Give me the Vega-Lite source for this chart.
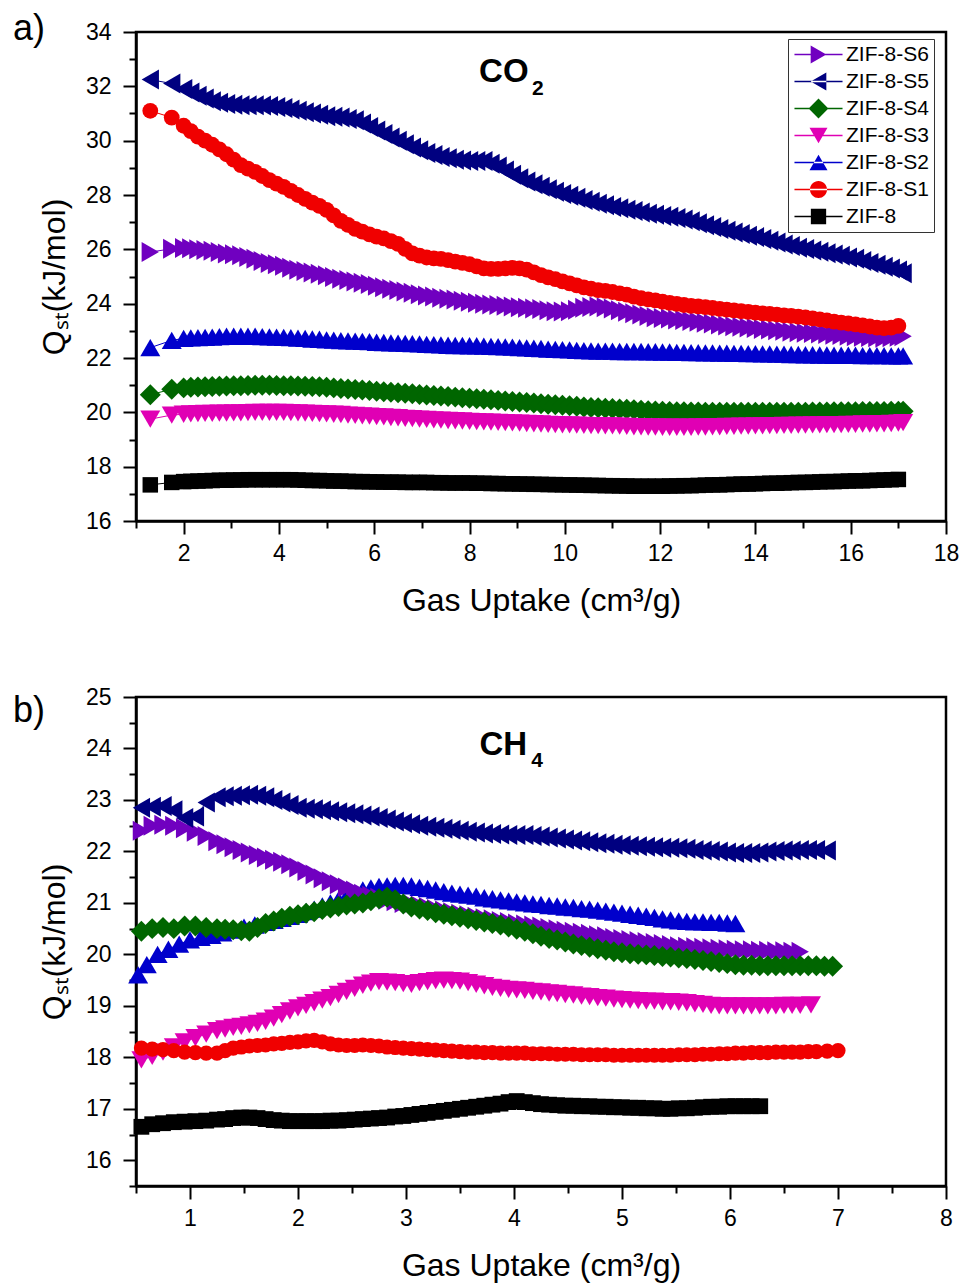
{
"$schema": "https://vega.github.io/schema/vega-lite/v6.json",
"background": "white",
"padding": {"left": 11, "top": 9, "right": 5, "bottom": 5},
"spacing": 66,
"config": {
 "font": "Liberation Sans",
 "view": {"stroke": "black", "strokeWidth": 2.5},
 "axis": {"grid": false, "domainColor": "black", "domainWidth": 2.5, "tickColor": "black", "tickWidth": 2, "labelFont": "Liberation Sans", "labelFontSize": 23, "labelColor": "black", "titleFont": "Liberation Sans", "titleFontSize": 32, "titleFontWeight": "normal", "titleColor": "black", "labelOverlap": false, "labelFlush": false}
},
"datasets": {
"a6": [{"x":1.3,"y":25.9},{"x":1.75,"y":26.02},{"x":2.0,"y":26.05},{"x":2.15,"y":26.04},{"x":2.3,"y":26.0},{"x":2.45,"y":25.98},{"x":2.6,"y":25.95},{"x":2.75,"y":25.9},{"x":2.9,"y":25.85},{"x":3.05,"y":25.82},{"x":3.2,"y":25.78},{"x":3.35,"y":25.72},{"x":3.5,"y":25.65},{"x":3.65,"y":25.57},{"x":3.8,"y":25.5},{"x":3.95,"y":25.45},{"x":4.1,"y":25.4},{"x":4.25,"y":25.32},{"x":4.4,"y":25.25},{"x":4.55,"y":25.2},{"x":4.7,"y":25.15},{"x":4.85,"y":25.1},{"x":5.0,"y":25.05},{"x":5.15,"y":24.98},{"x":5.3,"y":24.92},{"x":5.45,"y":24.87},{"x":5.6,"y":24.82},{"x":5.75,"y":24.77},{"x":5.9,"y":24.72},{"x":6.05,"y":24.66},{"x":6.2,"y":24.6},{"x":6.35,"y":24.55},{"x":6.5,"y":24.5},{"x":6.65,"y":24.45},{"x":6.8,"y":24.4},{"x":6.95,"y":24.35},{"x":7.1,"y":24.3},{"x":7.25,"y":24.26},{"x":7.4,"y":24.22},{"x":7.55,"y":24.18},{"x":7.7,"y":24.15},{"x":7.85,"y":24.11},{"x":8.0,"y":24.07},{"x":8.15,"y":24.03},{"x":8.3,"y":24.0},{"x":8.45,"y":23.97},{"x":8.6,"y":23.95},{"x":8.75,"y":23.92},{"x":8.9,"y":23.9},{"x":9.05,"y":23.87},{"x":9.2,"y":23.85},{"x":9.35,"y":23.82},{"x":9.5,"y":23.8},{"x":9.65,"y":23.76},{"x":9.8,"y":23.72},{"x":9.95,"y":23.71},{"x":10.1,"y":23.72},{"x":10.25,"y":23.78},{"x":10.4,"y":23.85},{"x":10.55,"y":23.88},{"x":10.7,"y":23.9},{"x":10.85,"y":23.87},{"x":11.0,"y":23.82},{"x":11.15,"y":23.76},{"x":11.3,"y":23.7},{"x":11.45,"y":23.65},{"x":11.6,"y":23.6},{"x":11.75,"y":23.55},{"x":11.9,"y":23.5},{"x":12.05,"y":23.47},{"x":12.2,"y":23.45},{"x":12.35,"y":23.42},{"x":12.5,"y":23.4},{"x":12.65,"y":23.36},{"x":12.8,"y":23.33},{"x":12.95,"y":23.3},{"x":13.1,"y":23.27},{"x":13.25,"y":23.23},{"x":13.4,"y":23.2},{"x":13.55,"y":23.17},{"x":13.7,"y":23.15},{"x":13.85,"y":23.12},{"x":14.0,"y":23.1},{"x":14.15,"y":23.07},{"x":14.3,"y":23.05},{"x":14.45,"y":23.02},{"x":14.6,"y":23.0},{"x":14.75,"y":22.97},{"x":14.9,"y":22.95},{"x":15.05,"y":22.93},{"x":15.2,"y":22.92},{"x":15.35,"y":22.9},{"x":15.5,"y":22.88},{"x":15.65,"y":22.86},{"x":15.8,"y":22.85},{"x":15.95,"y":22.82},{"x":16.1,"y":22.8},{"x":16.25,"y":22.78},{"x":16.4,"y":22.77},{"x":16.55,"y":22.76},{"x":16.7,"y":22.75},{"x":16.85,"y":22.76},{"x":17.0,"y":22.78},{"x":17.1,"y":22.8}],
"a5": [{"x":1.3,"y":32.25},{"x":1.75,"y":32.1},{"x":2.0,"y":31.9},{"x":2.15,"y":31.77},{"x":2.3,"y":31.65},{"x":2.45,"y":31.55},{"x":2.6,"y":31.45},{"x":2.75,"y":31.4},{"x":2.9,"y":31.35},{"x":3.05,"y":31.32},{"x":3.2,"y":31.3},{"x":3.35,"y":31.3},{"x":3.5,"y":31.3},{"x":3.65,"y":31.29},{"x":3.8,"y":31.28},{"x":3.95,"y":31.24},{"x":4.1,"y":31.2},{"x":4.25,"y":31.15},{"x":4.4,"y":31.1},{"x":4.55,"y":31.05},{"x":4.7,"y":31.0},{"x":4.85,"y":30.95},{"x":5.0,"y":30.9},{"x":5.15,"y":30.88},{"x":5.3,"y":30.85},{"x":5.45,"y":30.8},{"x":5.6,"y":30.75},{"x":5.75,"y":30.63},{"x":5.9,"y":30.5},{"x":6.05,"y":30.37},{"x":6.2,"y":30.25},{"x":6.35,"y":30.12},{"x":6.5,"y":30.0},{"x":6.65,"y":29.87},{"x":6.8,"y":29.75},{"x":6.95,"y":29.65},{"x":7.1,"y":29.55},{"x":7.25,"y":29.47},{"x":7.4,"y":29.4},{"x":7.55,"y":29.35},{"x":7.7,"y":29.3},{"x":7.85,"y":29.27},{"x":8.0,"y":29.25},{"x":8.15,"y":29.25},{"x":8.3,"y":29.25},{"x":8.45,"y":29.15},{"x":8.6,"y":29.05},{"x":8.75,"y":28.9},{"x":8.9,"y":28.75},{"x":9.05,"y":28.62},{"x":9.2,"y":28.5},{"x":9.35,"y":28.4},{"x":9.5,"y":28.3},{"x":9.65,"y":28.21},{"x":9.8,"y":28.12},{"x":9.95,"y":28.04},{"x":10.1,"y":27.97},{"x":10.25,"y":27.9},{"x":10.4,"y":27.82},{"x":10.55,"y":27.75},{"x":10.7,"y":27.68},{"x":10.85,"y":27.62},{"x":11.0,"y":27.56},{"x":11.15,"y":27.51},{"x":11.3,"y":27.46},{"x":11.45,"y":27.41},{"x":11.6,"y":27.36},{"x":11.75,"y":27.31},{"x":11.9,"y":27.27},{"x":12.05,"y":27.23},{"x":12.2,"y":27.2},{"x":12.35,"y":27.15},{"x":12.5,"y":27.1},{"x":12.65,"y":27.03},{"x":12.8,"y":26.96},{"x":12.95,"y":26.89},{"x":13.1,"y":26.82},{"x":13.25,"y":26.75},{"x":13.4,"y":26.68},{"x":13.55,"y":26.62},{"x":13.7,"y":26.56},{"x":13.85,"y":26.5},{"x":14.0,"y":26.45},{"x":14.15,"y":26.38},{"x":14.3,"y":26.32},{"x":14.45,"y":26.25},{"x":14.6,"y":26.18},{"x":14.75,"y":26.12},{"x":14.9,"y":26.06},{"x":15.05,"y":26.01},{"x":15.2,"y":25.96},{"x":15.35,"y":25.91},{"x":15.5,"y":25.86},{"x":15.65,"y":25.81},{"x":15.8,"y":25.76},{"x":15.95,"y":25.7},{"x":16.1,"y":25.65},{"x":16.25,"y":25.57},{"x":16.4,"y":25.5},{"x":16.55,"y":25.43},{"x":16.7,"y":25.36},{"x":16.85,"y":25.29},{"x":17.0,"y":25.22},{"x":17.1,"y":25.12}],
"a4": [{"x":1.3,"y":20.65},{"x":1.75,"y":20.85},{"x":2.0,"y":20.9},{"x":2.15,"y":20.92},{"x":2.3,"y":20.93},{"x":2.45,"y":20.94},{"x":2.6,"y":20.95},{"x":2.75,"y":20.96},{"x":2.9,"y":20.97},{"x":3.05,"y":20.98},{"x":3.2,"y":20.98},{"x":3.35,"y":20.99},{"x":3.5,"y":21.0},{"x":3.65,"y":21.0},{"x":3.8,"y":21.0},{"x":3.95,"y":20.99},{"x":4.1,"y":20.98},{"x":4.25,"y":20.98},{"x":4.4,"y":20.97},{"x":4.55,"y":20.96},{"x":4.7,"y":20.95},{"x":4.85,"y":20.94},{"x":5.0,"y":20.92},{"x":5.15,"y":20.9},{"x":5.3,"y":20.88},{"x":5.45,"y":20.86},{"x":5.6,"y":20.84},{"x":5.75,"y":20.82},{"x":5.9,"y":20.8},{"x":6.05,"y":20.78},{"x":6.2,"y":20.76},{"x":6.35,"y":20.74},{"x":6.5,"y":20.72},{"x":6.65,"y":20.7},{"x":6.8,"y":20.68},{"x":6.95,"y":20.66},{"x":7.1,"y":20.64},{"x":7.25,"y":20.62},{"x":7.4,"y":20.6},{"x":7.55,"y":20.58},{"x":7.7,"y":20.56},{"x":7.85,"y":20.54},{"x":8.0,"y":20.52},{"x":8.15,"y":20.5},{"x":8.3,"y":20.48},{"x":8.45,"y":20.46},{"x":8.6,"y":20.44},{"x":8.75,"y":20.42},{"x":8.9,"y":20.4},{"x":9.05,"y":20.38},{"x":9.2,"y":20.36},{"x":9.35,"y":20.34},{"x":9.5,"y":20.32},{"x":9.65,"y":20.3},{"x":9.8,"y":20.28},{"x":9.95,"y":20.26},{"x":10.1,"y":20.24},{"x":10.25,"y":20.22},{"x":10.4,"y":20.2},{"x":10.55,"y":20.18},{"x":10.7,"y":20.17},{"x":10.85,"y":20.15},{"x":11.0,"y":20.14},{"x":11.15,"y":20.12},{"x":11.3,"y":20.11},{"x":11.45,"y":20.1},{"x":11.6,"y":20.08},{"x":11.75,"y":20.06},{"x":11.9,"y":20.05},{"x":12.05,"y":20.04},{"x":12.2,"y":20.03},{"x":12.35,"y":20.02},{"x":12.5,"y":20.02},{"x":12.65,"y":20.01},{"x":12.8,"y":20.01},{"x":12.95,"y":20.0},{"x":13.1,"y":20.0},{"x":13.25,"y":20.0},{"x":13.4,"y":20.0},{"x":13.55,"y":20.0},{"x":13.7,"y":20.0},{"x":13.85,"y":20.0},{"x":14.0,"y":20.0},{"x":14.15,"y":20.0},{"x":14.3,"y":20.0},{"x":14.45,"y":20.0},{"x":14.6,"y":20.0},{"x":14.75,"y":20.0},{"x":14.9,"y":20.0},{"x":15.05,"y":20.0},{"x":15.2,"y":20.01},{"x":15.35,"y":20.01},{"x":15.5,"y":20.01},{"x":15.65,"y":20.02},{"x":15.8,"y":20.02},{"x":15.95,"y":20.02},{"x":16.1,"y":20.02},{"x":16.25,"y":20.03},{"x":16.4,"y":20.03},{"x":16.55,"y":20.03},{"x":16.7,"y":20.03},{"x":16.85,"y":20.04},{"x":17.0,"y":20.04},{"x":17.1,"y":20.04}],
"a3": [{"x":1.3,"y":19.75},{"x":1.75,"y":19.9},{"x":2.0,"y":19.93},{"x":2.15,"y":19.94},{"x":2.3,"y":19.95},{"x":2.45,"y":19.96},{"x":2.6,"y":19.96},{"x":2.75,"y":19.97},{"x":2.9,"y":19.97},{"x":3.05,"y":19.98},{"x":3.2,"y":19.98},{"x":3.35,"y":19.99},{"x":3.5,"y":20.0},{"x":3.65,"y":20.0},{"x":3.8,"y":20.0},{"x":3.95,"y":20.0},{"x":4.1,"y":20.0},{"x":4.25,"y":19.99},{"x":4.4,"y":19.98},{"x":4.55,"y":19.97},{"x":4.7,"y":19.96},{"x":4.85,"y":19.95},{"x":5.0,"y":19.94},{"x":5.15,"y":19.93},{"x":5.3,"y":19.92},{"x":5.45,"y":19.9},{"x":5.6,"y":19.89},{"x":5.75,"y":19.87},{"x":5.9,"y":19.86},{"x":6.05,"y":19.84},{"x":6.2,"y":19.83},{"x":6.35,"y":19.81},{"x":6.5,"y":19.8},{"x":6.65,"y":19.78},{"x":6.8,"y":19.77},{"x":6.95,"y":19.75},{"x":7.1,"y":19.74},{"x":7.25,"y":19.72},{"x":7.4,"y":19.71},{"x":7.55,"y":19.7},{"x":7.7,"y":19.69},{"x":7.85,"y":19.68},{"x":8.0,"y":19.67},{"x":8.15,"y":19.66},{"x":8.3,"y":19.65},{"x":8.45,"y":19.64},{"x":8.6,"y":19.63},{"x":8.75,"y":19.62},{"x":8.9,"y":19.61},{"x":9.05,"y":19.6},{"x":9.2,"y":19.59},{"x":9.35,"y":19.58},{"x":9.5,"y":19.57},{"x":9.65,"y":19.56},{"x":9.8,"y":19.55},{"x":9.95,"y":19.54},{"x":10.1,"y":19.54},{"x":10.25,"y":19.53},{"x":10.4,"y":19.52},{"x":10.55,"y":19.51},{"x":10.7,"y":19.51},{"x":10.85,"y":19.5},{"x":11.0,"y":19.5},{"x":11.15,"y":19.49},{"x":11.3,"y":19.48},{"x":11.45,"y":19.47},{"x":11.6,"y":19.47},{"x":11.75,"y":19.46},{"x":11.9,"y":19.46},{"x":12.05,"y":19.45},{"x":12.2,"y":19.45},{"x":12.35,"y":19.45},{"x":12.5,"y":19.45},{"x":12.65,"y":19.45},{"x":12.8,"y":19.46},{"x":12.95,"y":19.46},{"x":13.1,"y":19.47},{"x":13.25,"y":19.47},{"x":13.4,"y":19.48},{"x":13.55,"y":19.48},{"x":13.7,"y":19.49},{"x":13.85,"y":19.49},{"x":14.0,"y":19.5},{"x":14.15,"y":19.5},{"x":14.3,"y":19.51},{"x":14.45,"y":19.51},{"x":14.6,"y":19.52},{"x":14.75,"y":19.52},{"x":14.9,"y":19.53},{"x":15.05,"y":19.53},{"x":15.2,"y":19.54},{"x":15.35,"y":19.54},{"x":15.5,"y":19.55},{"x":15.65,"y":19.55},{"x":15.8,"y":19.55},{"x":15.95,"y":19.56},{"x":16.1,"y":19.56},{"x":16.25,"y":19.57},{"x":16.4,"y":19.57},{"x":16.55,"y":19.58},{"x":16.7,"y":19.58},{"x":16.85,"y":19.59},{"x":17.0,"y":19.6},{"x":17.1,"y":19.62}],
"a2": [{"x":1.3,"y":22.38},{"x":1.75,"y":22.65},{"x":2.0,"y":22.72},{"x":2.15,"y":22.74},{"x":2.3,"y":22.75},{"x":2.45,"y":22.76},{"x":2.6,"y":22.77},{"x":2.75,"y":22.79},{"x":2.9,"y":22.8},{"x":3.05,"y":22.8},{"x":3.2,"y":22.8},{"x":3.35,"y":22.8},{"x":3.5,"y":22.8},{"x":3.65,"y":22.79},{"x":3.8,"y":22.78},{"x":3.95,"y":22.77},{"x":4.1,"y":22.76},{"x":4.25,"y":22.75},{"x":4.4,"y":22.73},{"x":4.55,"y":22.72},{"x":4.7,"y":22.7},{"x":4.85,"y":22.69},{"x":5.0,"y":22.67},{"x":5.15,"y":22.66},{"x":5.3,"y":22.64},{"x":5.45,"y":22.63},{"x":5.6,"y":22.62},{"x":5.75,"y":22.61},{"x":5.9,"y":22.6},{"x":6.05,"y":22.58},{"x":6.2,"y":22.57},{"x":6.35,"y":22.56},{"x":6.5,"y":22.55},{"x":6.65,"y":22.54},{"x":6.8,"y":22.53},{"x":6.95,"y":22.52},{"x":7.1,"y":22.5},{"x":7.25,"y":22.49},{"x":7.4,"y":22.48},{"x":7.55,"y":22.47},{"x":7.7,"y":22.46},{"x":7.85,"y":22.46},{"x":8.0,"y":22.45},{"x":8.15,"y":22.45},{"x":8.3,"y":22.44},{"x":8.45,"y":22.43},{"x":8.6,"y":22.42},{"x":8.75,"y":22.41},{"x":8.9,"y":22.4},{"x":9.05,"y":22.38},{"x":9.2,"y":22.37},{"x":9.35,"y":22.36},{"x":9.5,"y":22.35},{"x":9.65,"y":22.33},{"x":9.8,"y":22.32},{"x":9.95,"y":22.31},{"x":10.1,"y":22.3},{"x":10.25,"y":22.28},{"x":10.4,"y":22.27},{"x":10.55,"y":22.26},{"x":10.7,"y":22.25},{"x":10.85,"y":22.25},{"x":11.0,"y":22.25},{"x":11.15,"y":22.24},{"x":11.3,"y":22.24},{"x":11.45,"y":22.24},{"x":11.6,"y":22.24},{"x":11.75,"y":22.23},{"x":11.9,"y":22.23},{"x":12.05,"y":22.22},{"x":12.2,"y":22.22},{"x":12.35,"y":22.21},{"x":12.5,"y":22.21},{"x":12.65,"y":22.2},{"x":12.8,"y":22.2},{"x":12.95,"y":22.19},{"x":13.1,"y":22.19},{"x":13.25,"y":22.18},{"x":13.4,"y":22.18},{"x":13.55,"y":22.17},{"x":13.7,"y":22.17},{"x":13.85,"y":22.16},{"x":14.0,"y":22.16},{"x":14.15,"y":22.15},{"x":14.3,"y":22.15},{"x":14.45,"y":22.14},{"x":14.6,"y":22.14},{"x":14.75,"y":22.13},{"x":14.9,"y":22.13},{"x":15.05,"y":22.12},{"x":15.2,"y":22.12},{"x":15.35,"y":22.11},{"x":15.5,"y":22.11},{"x":15.65,"y":22.1},{"x":15.8,"y":22.1},{"x":15.95,"y":22.1},{"x":16.1,"y":22.1},{"x":16.25,"y":22.09},{"x":16.4,"y":22.09},{"x":16.55,"y":22.09},{"x":16.7,"y":22.09},{"x":16.85,"y":22.08},{"x":17.0,"y":22.08},{"x":17.1,"y":22.08}],
"a1": [{"x":1.3,"y":31.1},{"x":1.75,"y":30.85},{"x":2.0,"y":30.55},{"x":2.15,"y":30.35},{"x":2.3,"y":30.15},{"x":2.45,"y":30.0},{"x":2.6,"y":29.85},{"x":2.75,"y":29.68},{"x":2.9,"y":29.5},{"x":3.05,"y":29.3},{"x":3.2,"y":29.1},{"x":3.35,"y":28.97},{"x":3.5,"y":28.85},{"x":3.65,"y":28.7},{"x":3.8,"y":28.55},{"x":3.95,"y":28.42},{"x":4.1,"y":28.3},{"x":4.25,"y":28.15},{"x":4.4,"y":28.0},{"x":4.55,"y":27.86},{"x":4.7,"y":27.72},{"x":4.85,"y":27.6},{"x":5.0,"y":27.45},{"x":5.15,"y":27.25},{"x":5.3,"y":27.05},{"x":5.45,"y":26.9},{"x":5.6,"y":26.75},{"x":5.75,"y":26.65},{"x":5.9,"y":26.55},{"x":6.05,"y":26.47},{"x":6.2,"y":26.4},{"x":6.35,"y":26.3},{"x":6.5,"y":26.2},{"x":6.65,"y":26.02},{"x":6.8,"y":25.85},{"x":6.95,"y":25.77},{"x":7.1,"y":25.7},{"x":7.25,"y":25.67},{"x":7.4,"y":25.65},{"x":7.55,"y":25.6},{"x":7.7,"y":25.55},{"x":7.85,"y":25.5},{"x":8.0,"y":25.45},{"x":8.15,"y":25.37},{"x":8.3,"y":25.3},{"x":8.45,"y":25.28},{"x":8.6,"y":25.28},{"x":8.75,"y":25.3},{"x":8.9,"y":25.32},{"x":9.05,"y":25.3},{"x":9.2,"y":25.25},{"x":9.35,"y":25.15},{"x":9.5,"y":25.05},{"x":9.65,"y":24.97},{"x":9.8,"y":24.9},{"x":9.95,"y":24.82},{"x":10.1,"y":24.75},{"x":10.25,"y":24.67},{"x":10.4,"y":24.6},{"x":10.55,"y":24.55},{"x":10.7,"y":24.5},{"x":10.85,"y":24.47},{"x":11.0,"y":24.43},{"x":11.15,"y":24.38},{"x":11.3,"y":24.33},{"x":11.45,"y":24.26},{"x":11.6,"y":24.2},{"x":11.75,"y":24.16},{"x":11.9,"y":24.12},{"x":12.05,"y":24.07},{"x":12.2,"y":24.03},{"x":12.35,"y":23.99},{"x":12.5,"y":23.95},{"x":12.65,"y":23.92},{"x":12.8,"y":23.9},{"x":12.95,"y":23.87},{"x":13.1,"y":23.84},{"x":13.25,"y":23.81},{"x":13.4,"y":23.78},{"x":13.55,"y":23.75},{"x":13.7,"y":23.72},{"x":13.85,"y":23.7},{"x":14.0,"y":23.67},{"x":14.15,"y":23.64},{"x":14.3,"y":23.62},{"x":14.45,"y":23.6},{"x":14.6,"y":23.57},{"x":14.75,"y":23.55},{"x":14.9,"y":23.52},{"x":15.05,"y":23.49},{"x":15.2,"y":23.46},{"x":15.35,"y":23.42},{"x":15.5,"y":23.38},{"x":15.65,"y":23.34},{"x":15.8,"y":23.3},{"x":15.95,"y":23.27},{"x":16.1,"y":23.24},{"x":16.25,"y":23.2},{"x":16.4,"y":23.16},{"x":16.55,"y":23.12},{"x":16.7,"y":23.1},{"x":16.85,"y":23.12},{"x":17.0,"y":23.18}],
"a0": [{"x":1.3,"y":17.33},{"x":1.75,"y":17.42},{"x":2.0,"y":17.45},{"x":2.15,"y":17.46},{"x":2.3,"y":17.47},{"x":2.45,"y":17.48},{"x":2.6,"y":17.49},{"x":2.75,"y":17.5},{"x":2.9,"y":17.5},{"x":3.05,"y":17.51},{"x":3.2,"y":17.51},{"x":3.35,"y":17.52},{"x":3.5,"y":17.52},{"x":3.65,"y":17.52},{"x":3.8,"y":17.52},{"x":3.95,"y":17.52},{"x":4.1,"y":17.52},{"x":4.25,"y":17.52},{"x":4.4,"y":17.51},{"x":4.55,"y":17.5},{"x":4.7,"y":17.49},{"x":4.85,"y":17.49},{"x":5.0,"y":17.48},{"x":5.15,"y":17.47},{"x":5.3,"y":17.47},{"x":5.45,"y":17.46},{"x":5.6,"y":17.45},{"x":5.75,"y":17.45},{"x":5.9,"y":17.44},{"x":6.05,"y":17.44},{"x":6.2,"y":17.43},{"x":6.35,"y":17.43},{"x":6.5,"y":17.43},{"x":6.65,"y":17.42},{"x":6.8,"y":17.42},{"x":6.95,"y":17.42},{"x":7.1,"y":17.42},{"x":7.25,"y":17.41},{"x":7.4,"y":17.41},{"x":7.55,"y":17.4},{"x":7.7,"y":17.4},{"x":7.85,"y":17.4},{"x":8.0,"y":17.4},{"x":8.15,"y":17.39},{"x":8.3,"y":17.39},{"x":8.45,"y":17.38},{"x":8.6,"y":17.38},{"x":8.75,"y":17.37},{"x":8.9,"y":17.37},{"x":9.05,"y":17.36},{"x":9.2,"y":17.36},{"x":9.35,"y":17.35},{"x":9.5,"y":17.35},{"x":9.65,"y":17.34},{"x":9.8,"y":17.34},{"x":9.95,"y":17.33},{"x":10.1,"y":17.33},{"x":10.25,"y":17.32},{"x":10.4,"y":17.32},{"x":10.55,"y":17.31},{"x":10.7,"y":17.31},{"x":10.85,"y":17.3},{"x":11.0,"y":17.3},{"x":11.15,"y":17.29},{"x":11.3,"y":17.29},{"x":11.45,"y":17.28},{"x":11.6,"y":17.28},{"x":11.75,"y":17.28},{"x":11.9,"y":17.28},{"x":12.05,"y":17.28},{"x":12.2,"y":17.29},{"x":12.35,"y":17.29},{"x":12.5,"y":17.3},{"x":12.65,"y":17.3},{"x":12.8,"y":17.31},{"x":12.95,"y":17.32},{"x":13.1,"y":17.33},{"x":13.25,"y":17.33},{"x":13.4,"y":17.34},{"x":13.55,"y":17.35},{"x":13.7,"y":17.36},{"x":13.85,"y":17.36},{"x":14.0,"y":17.37},{"x":14.15,"y":17.38},{"x":14.3,"y":17.39},{"x":14.45,"y":17.39},{"x":14.6,"y":17.4},{"x":14.75,"y":17.41},{"x":14.9,"y":17.42},{"x":15.05,"y":17.42},{"x":15.2,"y":17.43},{"x":15.35,"y":17.44},{"x":15.5,"y":17.45},{"x":15.65,"y":17.45},{"x":15.8,"y":17.46},{"x":15.95,"y":17.47},{"x":16.1,"y":17.48},{"x":16.25,"y":17.48},{"x":16.4,"y":17.49},{"x":16.55,"y":17.5},{"x":16.7,"y":17.51},{"x":16.85,"y":17.52},{"x":17.0,"y":17.53}],
"b6": [{"x":0.55,"y":22.4},{"x":0.65,"y":22.5},{"x":0.75,"y":22.52},{"x":0.85,"y":22.5},{"x":0.95,"y":22.45},{"x":1.05,"y":22.38},{"x":1.15,"y":22.3},{"x":1.25,"y":22.2},{"x":1.325,"y":22.14},{"x":1.4,"y":22.08},{"x":1.475,"y":22.03},{"x":1.55,"y":21.98},{"x":1.625,"y":21.93},{"x":1.7,"y":21.88},{"x":1.775,"y":21.84},{"x":1.85,"y":21.8},{"x":1.925,"y":21.75},{"x":2.0,"y":21.69},{"x":2.075,"y":21.62},{"x":2.15,"y":21.55},{"x":2.225,"y":21.48},{"x":2.3,"y":21.42},{"x":2.375,"y":21.36},{"x":2.45,"y":21.3},{"x":2.525,"y":21.24},{"x":2.6,"y":21.18},{"x":2.675,"y":21.14},{"x":2.75,"y":21.1},{"x":2.825,"y":21.06},{"x":2.9,"y":21.03},{"x":2.975,"y":21.0},{"x":3.05,"y":20.98},{"x":3.125,"y":20.95},{"x":3.2,"y":20.92},{"x":3.275,"y":20.88},{"x":3.35,"y":20.85},{"x":3.425,"y":20.82},{"x":3.5,"y":20.79},{"x":3.575,"y":20.76},{"x":3.65,"y":20.73},{"x":3.725,"y":20.7},{"x":3.8,"y":20.68},{"x":3.875,"y":20.65},{"x":3.95,"y":20.63},{"x":4.025,"y":20.6},{"x":4.1,"y":20.58},{"x":4.175,"y":20.56},{"x":4.25,"y":20.54},{"x":4.325,"y":20.51},{"x":4.4,"y":20.49},{"x":4.475,"y":20.46},{"x":4.55,"y":20.44},{"x":4.625,"y":20.42},{"x":4.7,"y":20.4},{"x":4.775,"y":20.37},{"x":4.85,"y":20.35},{"x":4.925,"y":20.32},{"x":5.0,"y":20.3},{"x":5.075,"y":20.28},{"x":5.15,"y":20.26},{"x":5.225,"y":20.24},{"x":5.3,"y":20.22},{"x":5.375,"y":20.2},{"x":5.45,"y":20.18},{"x":5.525,"y":20.16},{"x":5.6,"y":20.15},{"x":5.675,"y":20.14},{"x":5.75,"y":20.13},{"x":5.825,"y":20.12},{"x":5.9,"y":20.11},{"x":5.975,"y":20.1},{"x":6.05,"y":20.09},{"x":6.125,"y":20.08},{"x":6.2,"y":20.08},{"x":6.275,"y":20.07},{"x":6.35,"y":20.07},{"x":6.425,"y":20.06},{"x":6.5,"y":20.06},{"x":6.575,"y":20.05},{"x":6.65,"y":20.05}],
"b5": [{"x":0.55,"y":22.85},{"x":0.65,"y":22.87},{"x":0.75,"y":22.88},{"x":0.85,"y":22.8},{"x":0.95,"y":22.65},{"x":1.05,"y":22.68},{"x":1.15,"y":22.95},{"x":1.25,"y":23.05},{"x":1.325,"y":23.07},{"x":1.4,"y":23.08},{"x":1.475,"y":23.09},{"x":1.55,"y":23.1},{"x":1.625,"y":23.08},{"x":1.7,"y":23.05},{"x":1.775,"y":23.0},{"x":1.85,"y":22.95},{"x":1.925,"y":22.9},{"x":2.0,"y":22.85},{"x":2.075,"y":22.83},{"x":2.15,"y":22.82},{"x":2.225,"y":22.8},{"x":2.3,"y":22.78},{"x":2.375,"y":22.76},{"x":2.45,"y":22.74},{"x":2.525,"y":22.72},{"x":2.6,"y":22.7},{"x":2.675,"y":22.68},{"x":2.75,"y":22.65},{"x":2.825,"y":22.62},{"x":2.9,"y":22.58},{"x":2.975,"y":22.55},{"x":3.05,"y":22.53},{"x":3.125,"y":22.5},{"x":3.2,"y":22.48},{"x":3.275,"y":22.46},{"x":3.35,"y":22.44},{"x":3.425,"y":22.42},{"x":3.5,"y":22.4},{"x":3.575,"y":22.38},{"x":3.65,"y":22.37},{"x":3.725,"y":22.35},{"x":3.8,"y":22.34},{"x":3.875,"y":22.33},{"x":3.95,"y":22.32},{"x":4.025,"y":22.32},{"x":4.1,"y":22.32},{"x":4.175,"y":22.3},{"x":4.25,"y":22.29},{"x":4.325,"y":22.27},{"x":4.4,"y":22.25},{"x":4.475,"y":22.23},{"x":4.55,"y":22.21},{"x":4.625,"y":22.2},{"x":4.7,"y":22.18},{"x":4.775,"y":22.16},{"x":4.85,"y":22.15},{"x":4.925,"y":22.13},{"x":5.0,"y":22.12},{"x":5.075,"y":22.11},{"x":5.15,"y":22.1},{"x":5.225,"y":22.09},{"x":5.3,"y":22.08},{"x":5.375,"y":22.07},{"x":5.45,"y":22.07},{"x":5.525,"y":22.06},{"x":5.6,"y":22.05},{"x":5.675,"y":22.03},{"x":5.75,"y":22.02},{"x":5.825,"y":22.01},{"x":5.9,"y":22.0},{"x":5.975,"y":21.98},{"x":6.05,"y":21.97},{"x":6.125,"y":21.97},{"x":6.2,"y":21.97},{"x":6.275,"y":21.98},{"x":6.35,"y":22.0},{"x":6.425,"y":22.01},{"x":6.5,"y":22.02},{"x":6.575,"y":22.02},{"x":6.65,"y":22.03},{"x":6.725,"y":22.03},{"x":6.8,"y":22.03},{"x":6.9,"y":22.02}],
"b4": [{"x":0.55,"y":20.45},{"x":0.65,"y":20.5},{"x":0.75,"y":20.52},{"x":0.85,"y":20.5},{"x":0.95,"y":20.55},{"x":1.05,"y":20.55},{"x":1.15,"y":20.52},{"x":1.25,"y":20.5},{"x":1.325,"y":20.49},{"x":1.4,"y":20.48},{"x":1.475,"y":20.46},{"x":1.55,"y":20.45},{"x":1.625,"y":20.52},{"x":1.7,"y":20.6},{"x":1.775,"y":20.65},{"x":1.85,"y":20.7},{"x":1.925,"y":20.74},{"x":2.0,"y":20.77},{"x":2.075,"y":20.8},{"x":2.15,"y":20.83},{"x":2.225,"y":20.87},{"x":2.3,"y":20.9},{"x":2.375,"y":20.93},{"x":2.45,"y":20.96},{"x":2.525,"y":20.98},{"x":2.6,"y":21.0},{"x":2.675,"y":21.04},{"x":2.75,"y":21.08},{"x":2.825,"y":21.11},{"x":2.9,"y":21.06},{"x":2.975,"y":20.98},{"x":3.05,"y":20.92},{"x":3.125,"y":20.88},{"x":3.2,"y":20.85},{"x":3.275,"y":20.81},{"x":3.35,"y":20.78},{"x":3.425,"y":20.75},{"x":3.5,"y":20.72},{"x":3.575,"y":20.69},{"x":3.65,"y":20.66},{"x":3.725,"y":20.63},{"x":3.8,"y":20.6},{"x":3.875,"y":20.57},{"x":3.95,"y":20.53},{"x":4.025,"y":20.49},{"x":4.1,"y":20.45},{"x":4.175,"y":20.4},{"x":4.25,"y":20.35},{"x":4.325,"y":20.31},{"x":4.4,"y":20.28},{"x":4.475,"y":20.24},{"x":4.55,"y":20.2},{"x":4.625,"y":20.17},{"x":4.7,"y":20.14},{"x":4.775,"y":20.11},{"x":4.85,"y":20.08},{"x":4.925,"y":20.05},{"x":5.0,"y":20.03},{"x":5.075,"y":20.01},{"x":5.15,"y":20.0},{"x":5.225,"y":19.99},{"x":5.3,"y":19.98},{"x":5.375,"y":19.96},{"x":5.45,"y":19.95},{"x":5.525,"y":19.93},{"x":5.6,"y":19.92},{"x":5.675,"y":19.9},{"x":5.75,"y":19.88},{"x":5.825,"y":19.86},{"x":5.9,"y":19.84},{"x":5.975,"y":19.82},{"x":6.05,"y":19.8},{"x":6.125,"y":19.79},{"x":6.2,"y":19.79},{"x":6.275,"y":19.78},{"x":6.35,"y":19.78},{"x":6.425,"y":19.78},{"x":6.5,"y":19.78},{"x":6.575,"y":19.78},{"x":6.65,"y":19.78},{"x":6.725,"y":19.78},{"x":6.8,"y":19.78},{"x":6.875,"y":19.77},{"x":6.95,"y":19.77}],
"b3": [{"x":0.55,"y":17.95},{"x":0.65,"y":18.02},{"x":0.75,"y":18.1},{"x":0.85,"y":18.2},{"x":0.95,"y":18.3},{"x":1.05,"y":18.38},{"x":1.15,"y":18.45},{"x":1.25,"y":18.52},{"x":1.325,"y":18.55},{"x":1.4,"y":18.58},{"x":1.475,"y":18.6},{"x":1.55,"y":18.63},{"x":1.625,"y":18.66},{"x":1.7,"y":18.7},{"x":1.775,"y":18.76},{"x":1.85,"y":18.83},{"x":1.925,"y":18.9},{"x":2.0,"y":18.96},{"x":2.075,"y":19.01},{"x":2.15,"y":19.06},{"x":2.225,"y":19.11},{"x":2.3,"y":19.16},{"x":2.375,"y":19.22},{"x":2.45,"y":19.28},{"x":2.525,"y":19.34},{"x":2.6,"y":19.4},{"x":2.675,"y":19.44},{"x":2.75,"y":19.47},{"x":2.825,"y":19.46},{"x":2.9,"y":19.45},{"x":2.975,"y":19.43},{"x":3.05,"y":19.42},{"x":3.125,"y":19.45},{"x":3.2,"y":19.47},{"x":3.275,"y":19.49},{"x":3.35,"y":19.5},{"x":3.425,"y":19.49},{"x":3.5,"y":19.48},{"x":3.575,"y":19.45},{"x":3.65,"y":19.42},{"x":3.725,"y":19.39},{"x":3.8,"y":19.36},{"x":3.875,"y":19.34},{"x":3.95,"y":19.32},{"x":4.025,"y":19.31},{"x":4.1,"y":19.3},{"x":4.175,"y":19.28},{"x":4.25,"y":19.27},{"x":4.325,"y":19.25},{"x":4.4,"y":19.24},{"x":4.475,"y":19.22},{"x":4.55,"y":19.21},{"x":4.625,"y":19.19},{"x":4.7,"y":19.18},{"x":4.775,"y":19.16},{"x":4.85,"y":19.15},{"x":4.925,"y":19.13},{"x":5.0,"y":19.12},{"x":5.075,"y":19.11},{"x":5.15,"y":19.1},{"x":5.225,"y":19.09},{"x":5.3,"y":19.09},{"x":5.375,"y":19.08},{"x":5.45,"y":19.08},{"x":5.525,"y":19.07},{"x":5.6,"y":19.06},{"x":5.675,"y":19.04},{"x":5.75,"y":19.03},{"x":5.825,"y":19.01},{"x":5.9,"y":19.0},{"x":5.975,"y":19.0},{"x":6.05,"y":19.0},{"x":6.125,"y":19.0},{"x":6.2,"y":19.0},{"x":6.275,"y":19.0},{"x":6.35,"y":19.0},{"x":6.425,"y":19.0},{"x":6.5,"y":19.01},{"x":6.575,"y":19.01},{"x":6.65,"y":19.01},{"x":6.75,"y":19.02}],
"b2": [{"x":0.52,"y":19.6},{"x":0.6,"y":19.8},{"x":0.7,"y":20.0},{"x":0.8,"y":20.1},{"x":0.9,"y":20.2},{"x":1.0,"y":20.28},{"x":1.1,"y":20.33},{"x":1.2,"y":20.37},{"x":1.3,"y":20.42},{"x":1.4,"y":20.47},{"x":1.5,"y":20.53},{"x":1.6,"y":20.57},{"x":1.7,"y":20.62},{"x":1.775,"y":20.66},{"x":1.85,"y":20.7},{"x":1.925,"y":20.74},{"x":2.0,"y":20.78},{"x":2.075,"y":20.83},{"x":2.15,"y":20.88},{"x":2.225,"y":20.94},{"x":2.3,"y":21.0},{"x":2.375,"y":21.06},{"x":2.45,"y":21.12},{"x":2.525,"y":21.18},{"x":2.6,"y":21.25},{"x":2.675,"y":21.29},{"x":2.75,"y":21.32},{"x":2.825,"y":21.33},{"x":2.9,"y":21.34},{"x":2.975,"y":21.34},{"x":3.05,"y":21.33},{"x":3.125,"y":21.3},{"x":3.2,"y":21.28},{"x":3.275,"y":21.25},{"x":3.35,"y":21.22},{"x":3.425,"y":21.19},{"x":3.5,"y":21.17},{"x":3.575,"y":21.15},{"x":3.65,"y":21.13},{"x":3.725,"y":21.1},{"x":3.8,"y":21.08},{"x":3.875,"y":21.06},{"x":3.95,"y":21.04},{"x":4.025,"y":21.02},{"x":4.1,"y":21.0},{"x":4.175,"y":20.98},{"x":4.25,"y":20.97},{"x":4.325,"y":20.95},{"x":4.4,"y":20.94},{"x":4.475,"y":20.92},{"x":4.55,"y":20.91},{"x":4.625,"y":20.89},{"x":4.7,"y":20.88},{"x":4.775,"y":20.86},{"x":4.85,"y":20.84},{"x":4.925,"y":20.82},{"x":5.0,"y":20.8},{"x":5.075,"y":20.78},{"x":5.15,"y":20.76},{"x":5.225,"y":20.74},{"x":5.3,"y":20.72},{"x":5.375,"y":20.69},{"x":5.45,"y":20.67},{"x":5.525,"y":20.65},{"x":5.6,"y":20.64},{"x":5.675,"y":20.63},{"x":5.75,"y":20.63},{"x":5.825,"y":20.62},{"x":5.9,"y":20.62},{"x":5.975,"y":20.61},{"x":6.05,"y":20.6}],
"b1": [{"x":0.55,"y":18.18},{"x":0.65,"y":18.16},{"x":0.75,"y":18.15},{"x":0.85,"y":18.13},{"x":0.95,"y":18.1},{"x":1.05,"y":18.09},{"x":1.15,"y":18.08},{"x":1.25,"y":18.08},{"x":1.325,"y":18.13},{"x":1.4,"y":18.18},{"x":1.475,"y":18.2},{"x":1.55,"y":18.22},{"x":1.625,"y":18.23},{"x":1.7,"y":18.24},{"x":1.775,"y":18.26},{"x":1.85,"y":18.27},{"x":1.925,"y":18.29},{"x":2.0,"y":18.3},{"x":2.075,"y":18.32},{"x":2.15,"y":18.33},{"x":2.225,"y":18.3},{"x":2.3,"y":18.26},{"x":2.375,"y":18.24},{"x":2.45,"y":18.23},{"x":2.525,"y":18.23},{"x":2.6,"y":18.24},{"x":2.675,"y":18.23},{"x":2.75,"y":18.22},{"x":2.825,"y":18.2},{"x":2.9,"y":18.19},{"x":2.975,"y":18.18},{"x":3.05,"y":18.17},{"x":3.125,"y":18.16},{"x":3.2,"y":18.15},{"x":3.275,"y":18.14},{"x":3.35,"y":18.13},{"x":3.425,"y":18.12},{"x":3.5,"y":18.11},{"x":3.575,"y":18.1},{"x":3.65,"y":18.1},{"x":3.725,"y":18.09},{"x":3.8,"y":18.09},{"x":3.875,"y":18.08},{"x":3.95,"y":18.08},{"x":4.025,"y":18.08},{"x":4.1,"y":18.08},{"x":4.175,"y":18.07},{"x":4.25,"y":18.07},{"x":4.325,"y":18.07},{"x":4.4,"y":18.06},{"x":4.475,"y":18.06},{"x":4.55,"y":18.06},{"x":4.625,"y":18.05},{"x":4.7,"y":18.05},{"x":4.775,"y":18.05},{"x":4.85,"y":18.05},{"x":4.925,"y":18.04},{"x":5.0,"y":18.04},{"x":5.075,"y":18.04},{"x":5.15,"y":18.04},{"x":5.225,"y":18.04},{"x":5.3,"y":18.04},{"x":5.375,"y":18.04},{"x":5.45,"y":18.04},{"x":5.525,"y":18.05},{"x":5.6,"y":18.05},{"x":5.675,"y":18.05},{"x":5.75,"y":18.06},{"x":5.825,"y":18.06},{"x":5.9,"y":18.07},{"x":5.975,"y":18.07},{"x":6.05,"y":18.08},{"x":6.125,"y":18.08},{"x":6.2,"y":18.09},{"x":6.275,"y":18.09},{"x":6.35,"y":18.09},{"x":6.425,"y":18.1},{"x":6.5,"y":18.1},{"x":6.575,"y":18.1},{"x":6.65,"y":18.1},{"x":6.725,"y":18.11},{"x":6.8,"y":18.11},{"x":6.9,"y":18.12},{"x":7.0,"y":18.13}],
"b0": [{"x":0.55,"y":16.65},{"x":0.65,"y":16.7},{"x":0.75,"y":16.72},{"x":0.85,"y":16.74},{"x":0.95,"y":16.75},{"x":1.05,"y":16.76},{"x":1.15,"y":16.77},{"x":1.25,"y":16.79},{"x":1.325,"y":16.8},{"x":1.4,"y":16.82},{"x":1.475,"y":16.83},{"x":1.55,"y":16.83},{"x":1.625,"y":16.82},{"x":1.7,"y":16.8},{"x":1.775,"y":16.78},{"x":1.85,"y":16.77},{"x":1.925,"y":16.76},{"x":2.0,"y":16.76},{"x":2.075,"y":16.76},{"x":2.15,"y":16.76},{"x":2.225,"y":16.76},{"x":2.3,"y":16.77},{"x":2.375,"y":16.77},{"x":2.45,"y":16.78},{"x":2.525,"y":16.79},{"x":2.6,"y":16.8},{"x":2.675,"y":16.81},{"x":2.75,"y":16.82},{"x":2.825,"y":16.83},{"x":2.9,"y":16.85},{"x":2.975,"y":16.86},{"x":3.05,"y":16.88},{"x":3.125,"y":16.9},{"x":3.2,"y":16.92},{"x":3.275,"y":16.94},{"x":3.35,"y":16.96},{"x":3.425,"y":16.98},{"x":3.5,"y":17.0},{"x":3.575,"y":17.02},{"x":3.65,"y":17.04},{"x":3.725,"y":17.06},{"x":3.8,"y":17.08},{"x":3.875,"y":17.1},{"x":3.95,"y":17.13},{"x":4.025,"y":17.15},{"x":4.1,"y":17.13},{"x":4.175,"y":17.11},{"x":4.25,"y":17.09},{"x":4.325,"y":17.08},{"x":4.4,"y":17.07},{"x":4.475,"y":17.06},{"x":4.55,"y":17.06},{"x":4.625,"y":17.05},{"x":4.7,"y":17.05},{"x":4.775,"y":17.04},{"x":4.85,"y":17.04},{"x":4.925,"y":17.03},{"x":5.0,"y":17.03},{"x":5.075,"y":17.02},{"x":5.15,"y":17.02},{"x":5.225,"y":17.01},{"x":5.3,"y":17.01},{"x":5.375,"y":17.0},{"x":5.45,"y":17.0},{"x":5.525,"y":17.01},{"x":5.6,"y":17.01},{"x":5.675,"y":17.02},{"x":5.75,"y":17.03},{"x":5.825,"y":17.04},{"x":5.9,"y":17.04},{"x":5.975,"y":17.05},{"x":6.05,"y":17.05},{"x":6.125,"y":17.05},{"x":6.2,"y":17.05},{"x":6.28,"y":17.05}]
},
"resolve": {"scale": {"x": "independent", "y": "independent", "color": "independent", "shape": "independent"}},
"vconcat": [
{
 "width": 810, "height": 489,
 "layer": [
  {"data": {"name": "a2"},
   "mark": {"type": "line", "color": "#0000cc", "strokeWidth": 1, "point": {"shape": "triangle-up", "filled": true, "color": "#0000cc", "size": 400, "opacity": 1, "strokeWidth": 0}},
   "encoding": {
    "x": {"field": "x", "type": "quantitative", "scale": {"domain": [1, 18], "nice": false, "zero": false},
      "axis": {"title": "Gas Uptake (cm³/g)", "values": [1,2,3,4,5,6,7,8,9,10,11,12,13,14,15,16,17,18], "tickCount": 100, "labelExpr": "datum.value % 2 === 0 ? format(datum.value, 'd') : ''", "tickSize": {"condition": {"test": "datum.value % 2 === 0", "value": 13}, "value": 7}, "labelPadding": 8, "titlePadding": 20, "labelOverlap": false}},
    "y": {"field": "y", "type": "quantitative", "scale": {"domain": [16, 34], "nice": false, "zero": false},
      "axis": {"title": "Qₛₜ(kJ/mol)", "values": [16,17,18,19,20,21,22,23,24,25,26,27,28,29,30,31,32,33,34], "tickCount": 100, "labelExpr": "datum.value % 2 === 0 ? format(datum.value, 'd') : ''", "tickSize": {"condition": {"test": "datum.value % 2 === 0", "value": 13}, "value": 7}, "labelPadding": 12, "titlePadding": 14, "labelOverlap": false}}
   }},
  {"data": {"name": "a6"}, "mark": {"type": "line", "color": "#7000c0", "strokeWidth": 1, "point": {"shape": "triangle-right", "filled": true, "color": "#7000c0", "size": 400, "opacity": 1, "strokeWidth": 0}}, "encoding": {"x": {"field": "x", "type": "quantitative"}, "y": {"field": "y", "type": "quantitative"}}},
  {"data": {"name": "a5"}, "mark": {"type": "line", "color": "#000080", "strokeWidth": 1, "point": {"shape": "triangle-left", "filled": true, "color": "#000080", "size": 400, "opacity": 1, "strokeWidth": 0}}, "encoding": {"x": {"field": "x", "type": "quantitative"}, "y": {"field": "y", "type": "quantitative"}}},
  {"data": {"name": "a4"}, "mark": {"type": "line", "color": "#006600", "strokeWidth": 1, "point": {"shape": "diamond", "filled": true, "color": "#006600", "size": 440, "opacity": 1, "strokeWidth": 0}}, "encoding": {"x": {"field": "x", "type": "quantitative"}, "y": {"field": "y", "type": "quantitative"}}},
  {"data": {"name": "a3"}, "mark": {"type": "line", "color": "#e000b4", "strokeWidth": 1, "point": {"shape": "triangle-down", "filled": true, "color": "#e000b4", "size": 400, "opacity": 1, "strokeWidth": 0}}, "encoding": {"x": {"field": "x", "type": "quantitative"}, "y": {"field": "y", "type": "quantitative"}}},
  {"data": {"name": "a1"}, "mark": {"type": "line", "color": "#f00000", "strokeWidth": 1, "point": {"shape": "circle", "filled": true, "color": "#f00000", "size": 250, "opacity": 1, "strokeWidth": 0}}, "encoding": {"x": {"field": "x", "type": "quantitative"}, "y": {"field": "y", "type": "quantitative"}}},
  {"data": {"name": "a0"}, "mark": {"type": "line", "color": "#000000", "strokeWidth": 1, "point": {"shape": "square", "filled": true, "color": "#000000", "size": 240, "opacity": 1, "strokeWidth": 0}}, "encoding": {"x": {"field": "x", "type": "quantitative"}, "y": {"field": "y", "type": "quantitative"}}},
  {"data": {"values": []}, "mark": {"type": "point", "filled": true, "opacity": 1},
   "encoding": {
    "x": {"field": "x", "type": "quantitative"}, "y": {"field": "y", "type": "quantitative"},
    "color": {"field": "s", "type": "nominal", "scale": {"domain": ["S6","S5","S4","S3","S2","S1","Z"], "range": ["#7000c0","#000080","#006600","#e000b4","#0000cc","#f00000","#000000"]},
      "legend": {"title": null, "orient": "none", "legendX": 652, "legendY": 7, "labelExpr": "datum.label === 'Z' ? 'ZIF-8' : 'ZIF-8-' + datum.label", "labelFont": "Liberation Sans", "labelFontSize": 21, "labelColor": "black", "symbolSize": 324, "symbolOffset": 15, "labelOffset": 17, "rowPadding": 5, "padding": 5, "strokeColor": "#333333", "fillColor": "white", "symbolStrokeWidth": 0, "symbolOpacity": 1}},
    "shape": {"field": "s", "type": "nominal", "scale": {"domain": ["S6","S5","S4","S3","S2","S1","Z"], "range": [
      "M-0.87,-1L0.87,0L-0.87,1Z M-2.67,-0.07H2.67V0.07H-2.67Z",
      "M0.87,-1L-0.87,0L0.87,1Z M-2.67,-0.07H2.67V0.07H-2.67Z",
      "M-1.1,0L0,-1.1L1.1,0L0,1.1Z M-2.67,-0.07H2.67V0.07H-2.67Z",
      "M-1,-0.87L1,-0.87L0,0.87Z M-2.67,-0.07H2.67V0.07H-2.67Z",
      "M-1,0.87L1,0.87L0,-0.87Z M-2.67,-0.07H2.67V0.07H-2.67Z",
      "M-0.95,0A0.95,0.95,0,1,0,0.95,0A0.95,0.95,0,1,0,-0.95,0Z M-2.67,-0.07H2.67V0.07H-2.67Z",
      "M-0.85,-0.85H0.85V0.85H-0.85Z M-2.67,-0.07H2.67V0.07H-2.67Z"]},
      "legend": {"title": null, "orient": "none", "legendX": 652, "legendY": 7, "labelExpr": "datum.label === 'Z' ? 'ZIF-8' : 'ZIF-8-' + datum.label", "labelFont": "Liberation Sans", "labelFontSize": 21, "labelColor": "black", "symbolSize": 324, "symbolOffset": 15, "labelOffset": 17, "rowPadding": 5, "padding": 5, "strokeColor": "#333333", "fillColor": "white", "symbolStrokeWidth": 0, "symbolOpacity": 1}}
   }},
  {"data": {"values": [{}]}, "mark": {"type": "text", "text": "CO", "font": "Liberation Sans", "fontSize": 33, "fontWeight": "bold", "align": "left", "baseline": "alphabetic", "color": "black"},
   "encoding": {"x": {"datum": 8.2, "type": "quantitative"}, "y": {"datum": 32.16, "type": "quantitative"}}},
  {"data": {"values": [{}]}, "mark": {"type": "text", "text": "2", "font": "Liberation Sans", "fontSize": 21, "fontWeight": "bold", "align": "left", "baseline": "alphabetic", "color": "black"},
   "encoding": {"x": {"datum": 9.31, "type": "quantitative"}, "y": {"datum": 31.68, "type": "quantitative"}}},
  {"data": {"values": [{}]}, "mark": {"type": "text", "text": "a)", "font": "Liberation Sans", "fontSize": 36, "align": "left", "baseline": "alphabetic", "color": "black"},
   "encoding": {"x": {"datum": -1.581, "type": "quantitative"}, "y": {"datum": 33.71, "type": "quantitative"}}}
 ]
},
{
 "width": 810, "height": 489,
 "layer": [
  {"data": {"name": "b2"},
   "mark": {"type": "line", "color": "#0000cc", "strokeWidth": 1, "point": {"shape": "triangle-up", "filled": true, "color": "#0000cc", "size": 400, "opacity": 1, "strokeWidth": 0}},
   "encoding": {
    "x": {"field": "x", "type": "quantitative", "scale": {"domain": [0.5, 8], "nice": false, "zero": false},
      "axis": {"title": "Gas Uptake (cm³/g)", "values": [0.5,1,1.5,2,2.5,3,3.5,4,4.5,5,5.5,6,6.5,7,7.5,8], "tickCount": 100, "labelExpr": "datum.value % 1 === 0 ? format(datum.value, 'd') : ''", "tickSize": {"condition": {"test": "datum.value % 1 === 0", "value": 13}, "value": 7}, "labelPadding": 8, "titlePadding": 20, "labelOverlap": false}},
    "y": {"field": "y", "type": "quantitative", "scale": {"domain": [15.5, 25], "nice": false, "zero": false},
      "axis": {"title": "Qₛₜ(kJ/mol)", "values": [15.5,16,16.5,17,17.5,18,18.5,19,19.5,20,20.5,21,21.5,22,22.5,23,23.5,24,24.5,25], "tickCount": 100, "labelExpr": "datum.value % 1 === 0 ? format(datum.value, 'd') : ''", "tickSize": {"condition": {"test": "datum.value % 1 === 0", "value": 13}, "value": 7}, "labelPadding": 12, "titlePadding": 14, "labelOverlap": false}}
   }},
  {"data": {"name": "b6"}, "mark": {"type": "line", "color": "#7000c0", "strokeWidth": 1, "point": {"shape": "triangle-right", "filled": true, "color": "#7000c0", "size": 400, "opacity": 1, "strokeWidth": 0}}, "encoding": {"x": {"field": "x", "type": "quantitative"}, "y": {"field": "y", "type": "quantitative"}}},
  {"data": {"name": "b5"}, "mark": {"type": "line", "color": "#000080", "strokeWidth": 1, "point": {"shape": "triangle-left", "filled": true, "color": "#000080", "size": 400, "opacity": 1, "strokeWidth": 0}}, "encoding": {"x": {"field": "x", "type": "quantitative"}, "y": {"field": "y", "type": "quantitative"}}},
  {"data": {"name": "b4"}, "mark": {"type": "line", "color": "#006600", "strokeWidth": 1, "point": {"shape": "diamond", "filled": true, "color": "#006600", "size": 440, "opacity": 1, "strokeWidth": 0}}, "encoding": {"x": {"field": "x", "type": "quantitative"}, "y": {"field": "y", "type": "quantitative"}}},
  {"data": {"name": "b3"}, "mark": {"type": "line", "color": "#e000b4", "strokeWidth": 1, "point": {"shape": "triangle-down", "filled": true, "color": "#e000b4", "size": 400, "opacity": 1, "strokeWidth": 0}}, "encoding": {"x": {"field": "x", "type": "quantitative"}, "y": {"field": "y", "type": "quantitative"}}},
  {"data": {"name": "b1"}, "mark": {"type": "line", "color": "#f00000", "strokeWidth": 1, "point": {"shape": "circle", "filled": true, "color": "#f00000", "size": 230, "opacity": 1, "strokeWidth": 0}}, "encoding": {"x": {"field": "x", "type": "quantitative"}, "y": {"field": "y", "type": "quantitative"}}},
  {"data": {"name": "b0"}, "mark": {"type": "line", "color": "#000000", "strokeWidth": 1, "point": {"shape": "square", "filled": true, "color": "#000000", "size": 250, "opacity": 1, "strokeWidth": 0}}, "encoding": {"x": {"field": "x", "type": "quantitative"}, "y": {"field": "y", "type": "quantitative"}}},
  {"data": {"values": [{}]}, "mark": {"type": "text", "text": "CH", "font": "Liberation Sans", "fontSize": 33, "fontWeight": "bold", "align": "left", "baseline": "alphabetic", "color": "black"},
   "encoding": {"x": {"datum": 3.68, "type": "quantitative"}, "y": {"datum": 23.87, "type": "quantitative"}}},
  {"data": {"values": [{}]}, "mark": {"type": "text", "text": "4", "font": "Liberation Sans", "fontSize": 21, "fontWeight": "bold", "align": "left", "baseline": "alphabetic", "color": "black"},
   "encoding": {"x": {"datum": 4.16, "type": "quantitative"}, "y": {"datum": 23.64, "type": "quantitative"}}},
  {"data": {"values": [{}]}, "mark": {"type": "text", "text": "b)", "font": "Liberation Sans", "fontSize": 36, "align": "left", "baseline": "alphabetic", "color": "black"},
   "encoding": {"x": {"datum": -0.639, "type": "quantitative"}, "y": {"datum": 24.51, "type": "quantitative"}}}
 ]
}
]
}
